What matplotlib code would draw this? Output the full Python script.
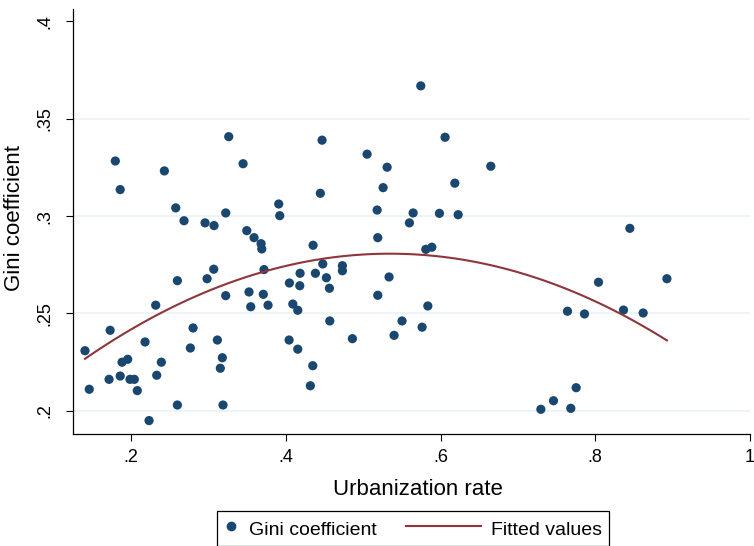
import numpy as np
import matplotlib
matplotlib.use("Agg")
import matplotlib.pyplot as plt
from matplotlib.lines import Line2D
from matplotlib.legend_handler import HandlerLine2D

plt.rcParams['font.family'] = ['Liberation Sans', 'DejaVu Sans']

# urbanization rate (x) and Gini coefficient (y)
urban = [
    0.1405, 0.146, 0.173, 0.1716, 0.1797, 0.186, 0.186, 0.1884, 0.1957, 0.1987,
    0.2043, 0.2081, 0.2181, 0.2233, 0.2319, 0.2332, 0.2392, 0.2431, 0.2578, 0.2599,
    0.2599, 0.2685, 0.2767, 0.2802, 0.2957, 0.3073, 0.2983, 0.3069, 0.3224, 0.3263,
    0.3448, 0.3224, 0.3116, 0.3180, 0.3154, 0.3189, 0.3496, 0.3590, 0.3681, 0.3690,
    0.3719, 0.3525, 0.3547, 0.3710, 0.3771, 0.3909, 0.3922, 0.4047, 0.4043,
    0.4185, 0.4181, 0.4091, 0.4155, 0.4155, 0.4349, 0.4318, 0.4353, 0.4383, 0.4478,
    0.4525, 0.4564, 0.4569, 0.4469, 0.4447, 0.4732, 0.4732, 0.4861, 0.5051, 0.5310,
    0.5258, 0.5181, 0.5189, 0.5189, 0.5335, 0.5503, 0.5400, 0.5745, 0.6059, 0.5646,
    0.5598, 0.5986, 0.6228, 0.6185, 0.6650, 0.5810, 0.5888, 0.5836, 0.5762,
    0.8447, 0.8926, 0.8042, 0.7641, 0.7861, 0.8365, 0.8619, 0.7753, 0.7460, 0.7297,
    0.7684,
]
gini = [
    0.2308, 0.211, 0.2413, 0.2161, 0.3283, 0.3136, 0.2178, 0.2249, 0.2264, 0.2161,
    0.2161, 0.2103, 0.2353, 0.1949, 0.2542, 0.2182, 0.2249, 0.3232, 0.3042, 0.2668,
    0.2029, 0.2976, 0.2322, 0.2425, 0.2965, 0.2951, 0.2678, 0.2727, 0.3016, 0.3408,
    0.3269, 0.2591, 0.2363, 0.2272, 0.2218, 0.2029, 0.2925, 0.2889, 0.2858, 0.2831,
    0.2725, 0.2610, 0.2534, 0.2598, 0.2542, 0.3062, 0.3002, 0.2656, 0.2363,
    0.2706, 0.2642, 0.2548, 0.2516, 0.2316, 0.2231, 0.2128, 0.2850, 0.2706, 0.2754,
    0.2683, 0.2629, 0.2461, 0.3390, 0.3117, 0.2745, 0.2719, 0.2370, 0.3318, 0.3251,
    0.3146, 0.3031, 0.2889, 0.2593, 0.2687, 0.2461, 0.2387, 0.3669, 0.3405, 0.3016,
    0.2965, 0.3014, 0.3007, 0.3169, 0.3256, 0.2829, 0.2840, 0.2538, 0.2429,
    0.2937, 0.2678, 0.2660, 0.2511, 0.2497, 0.2517, 0.2502, 0.2118, 0.2051, 0.2007,
    0.2012,
]

x_ticks = [0.2, 0.4, 0.6, 0.8, 1.0]
x_ticklabels = ['.2', '.4', '.6', '.8', '1']
y_ticks = [0.2, 0.25, 0.3, 0.35, 0.4]
y_ticklabels = ['.2', '.25', '.3', '.35', '.4']

NAVY = '#1a476f'
MAROON = '#90353b'


class LongLineHandler(HandlerLine2D):
    """legend line that reaches further left than the handle box"""
    def get_xdata(self, legend, xdescent, ydescent, width, height, fontsize):
        return [-xdescent - 43, -xdescent + width], [-xdescent + 0.5 * width]


fig = plt.figure(figsize=(7.54, 5.46), dpi=100)
ax = fig.add_axes([0.0964, 0.2051, 0.8983, 0.7784])

# quadratic fit, like Stata qfit
ux = np.array(urban)
gy = np.array(gini)
coef = np.polyfit(ux, gy, 2)
fit_x = np.linspace(ux.min(), ux.max(), 100)
fit_y = np.polyval(coef, fit_x)

ax.scatter(urban, gini, s=44, color=NAVY, edgecolors='none', zorder=3)
ax.plot(fit_x, fit_y, color=MAROON, lw=1.5, zorder=4)

ax.set_xlim(0.1246, 1.0)
ax.set_ylim(0.188, 0.4064)
ax.set_xticks(x_ticks)
ax.set_xticklabels(x_ticklabels)
ax.set_yticks(y_ticks)
ax.set_yticklabels(y_ticklabels, rotation=90, va='center')

ax.tick_params(axis='both', direction='out', length=5, width=0.8, color='black',
               labelsize=13)
ax.tick_params(axis='x', pad=6)
ax.tick_params(axis='y', pad=9)

ax.grid(axis='y', color='#eaf2f3', lw=1.2, zorder=0)
ax.yaxis.get_gridlines()[-1].set_visible(False)
ax.set_axisbelow(True)

for side in ['top', 'right']:
    ax.spines[side].set_visible(False)
for side in ['left', 'bottom']:
    ax.spines[side].set_color('black')
    ax.spines[side].set_linewidth(0.9)

ax.set_xlabel('Urbanization rate', fontsize=16)
ax.set_ylabel('Gini coefficient', fontsize=16)
ax.xaxis.label.set_va('center')
ax.yaxis.label.set_va('center')
ax.xaxis.set_label_coords(0.5098, -0.130)
ax.yaxis.set_label_coords(-0.0852, 0.509)

dot = Line2D([], [], ls='none', marker='o', ms=7, color=NAVY, mec='none')
fline = Line2D([], [], color=MAROON, lw=1.5)
leg = fig.legend([dot, fline], ['Gini coefficient', 'Fitted values'],
                 handler_map={fline: LongLineHandler()},
                 loc='upper left', bbox_to_anchor=(217 / 754, 1 - 510.7 / 546),
                 ncol=2, fontsize=14, frameon=True, fancybox=False,
                 edgecolor='black', framealpha=1, borderpad=0.35,
                 handlelength=0.77, handleheight=1.35, handletextpad=0.52,
                 columnspacing=4.6, borderaxespad=0)
leg.get_frame().set_linewidth(0.9)

fig.savefig('out.png', dpi=100)
